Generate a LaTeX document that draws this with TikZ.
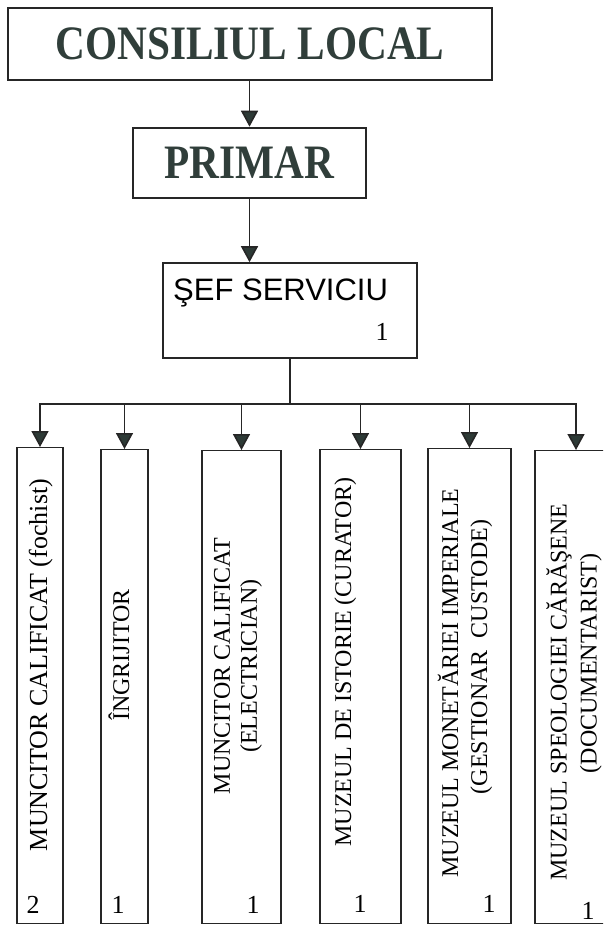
\documentclass[tikz,border=0pt]{standalone}
\usepackage{fontspec}
\setmainfont{Liberation Serif}
\newfontfamily\sefsans{Liberation Sans}
\usepackage{graphicx}
\usetikzlibrary{arrows.meta}
\usetikzlibrary{positioning}
\definecolor{titlegray}{RGB}{48,62,58}
\definecolor{headgray}{RGB}{45,58,54}
\tikzset{
	titlebox/.style={rectangle, draw=black!85, line width=2.6pt, inner sep=0pt, text=titlegray, font=\fontsize{48}{50}\selectfont\bfseries},
	chiefbox/.style={rectangle, draw=black!85, line width=1.6pt, inner sep=0pt},
	postbox/.style={rectangle, draw=black!85, line width=1.4pt, inner sep=0pt, anchor=north}
}
\tikzset{
	posttext/.style={rotate=90, inner sep=0pt, align=center, font=\fontsize{24}{27}\selectfont},
	countnode/.style={inner sep=0pt, font=\fontsize{26}{28}\selectfont},
	myarrow/.style={-{Triangle[width=17pt,length=16pt,fill=headgray]}, line width=1.6pt, draw=black!85}
}

\begin{document}
\begin{tikzpicture}[x=1pt,y=-1pt]
		\clip (0,0) rectangle (603,926);
		\node[titlebox, minimum width=484pt, minimum height=72pt] at (250,44) (consiliu) {\scalebox{0.86}[1]{CONSILIUL LOCAL}};
		\node[titlebox, minimum width=233pt, minimum height=70pt] at (249.5,163) (primar) {\scalebox{0.86}[1]{PRIMAR}};
		\node[chiefbox, minimum width=254pt, minimum height=95pt] at (290,310.5) (sef) {};
		\node[anchor=base west, inner sep=0pt, font=\sefsans\fontsize{31}{33}\selectfont] at (173,300) (seftext) {ŞEF SERVICIU};
		\node[countnode] at (382,332) (sefnr) {1};
		\coordinate (bus) at (290,404);
		
		%posts
		\node[postbox, minimum width=46pt, minimum height=476pt] at (40,447) (m1) {};
		\node[postbox, minimum width=47pt, minimum height=474pt] at (124.5,449) (m2) {};
		\node[postbox, minimum width=79pt, minimum height=473pt] at (241.5,450) (m3) {};
		\node[postbox, minimum width=81pt, minimum height=474pt] at (360.5,449) (m4) {};
		\node[postbox, minimum width=83pt, minimum height=475pt] at (469.5,448) (m5) {};
		\node[postbox, minimum width=82pt, minimum height=473pt] at (576,450) (m6) {};
		
		%text
		\node[posttext, anchor=base, font=\fontsize{26}{29}\selectfont] at (47,665) (t1) {MUNCITOR CALIFICAT (fochist)};
		\node[posttext, anchor=base] at (129,655) (t2) {ÎNGRIJITOR};
		\node[posttext] at (238,666) (t3) {MUNCITOR CALIFICAT\\(ELECTRICIAN)};
		\node[posttext, anchor=base] at (351,662) (t4) {MUZEUL DE ISTORIE (CURATOR)};
		\node[posttext, font=\fontsize{24}{29}\selectfont] at (465,683) (t5) {MUZEUL MONETĂRIEI IMPERIALE\\\hspace*{52pt}(GESTIONAR\ \ CUSTODE)};
		\node[posttext, font=\fontsize{24}{30}\selectfont] at (574,692) (t6) {MUZEUL SPEOLOGIEI CĂRĂŞENE\\\hspace*{57pt}(DOCUMENTARIST)};
		
		\node[countnode] at (33,905) (c1) {2};
		\node[countnode] at (118,905) (c2) {1};
		\node[countnode] at (253,905) (c3) {1};
		\node[countnode] at (360,904) (c4) {1};
		\node[countnode] at (489,904) (c5) {1};
		\node[countnode] at (588,911) (c6) {1};
		
		%Lines
		\draw[myarrow] (primar.north |- consiliu.south) -- (primar.north);
		\draw[myarrow] (primar.south) -- (primar.south |- sef.north);
		\draw[line width=1.6pt, draw=black!85] (sef.south) -- (bus);
		\draw[line width=1.6pt, draw=black!85, line cap=rect] (m1.north |- bus) -- (m6.north |- bus);
		\draw[myarrow] (m1.north |- bus) -- (m1.north);
		\draw[myarrow] (m2.north |- bus) -- (m2.north);
		\draw[myarrow] (m3.north |- bus) -- (m3.north);
		\draw[myarrow] (m4.north |- bus) -- (m4.north);
		\draw[myarrow] (m5.north |- bus) -- (m5.north);
		\draw[myarrow] (m6.north |- bus) -- (m6.north);
		
	\end{tikzpicture}
\end{document}
